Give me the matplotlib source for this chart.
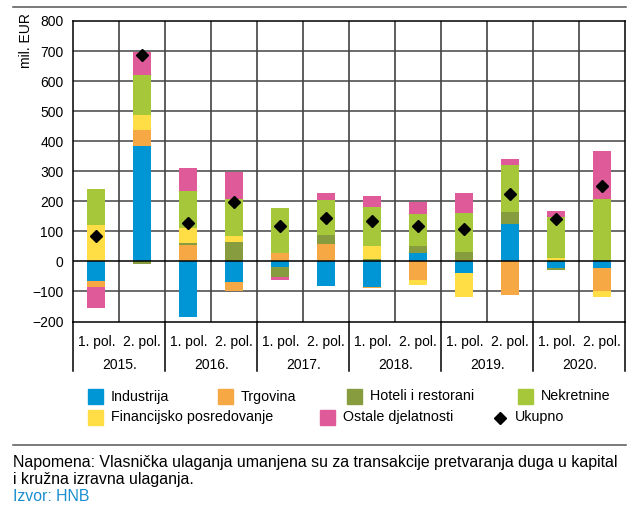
import matplotlib
matplotlib.use('Agg')
import matplotlib.pyplot as plt
import numpy as np
from matplotlib.patches import Rectangle
from matplotlib.lines import Line2D

plt.rcParams['font.family'] = ['Liberation Sans', 'DejaVu Sans']
plt.rcParams['font.size'] = 10

W, H = 633, 509

halves = ['1. pol.', '2. pol.'] * 6
years = ['2015.', '2016.', '2017.', '2018.', '2019.', '2020.']

# mil. EUR, by half-year
industrija = [-64, 383, -184, -70, -17, -81, -86, 28, -38, 126, -21, -22]
trgovina = [-20, 54, 54, -29, 27, 59, -2, -61, 4, -112, 0, -76]
hoteli = [-2, -8, 7, 65, -35, 28, 7, 23, 28, 39, -7, 4]
financijsko = [121, 49, 51, 20, 0, 0, 44, -18, -82, 0, 11, -22]
nekretnine = [120, 135, 123, 122, 150, 118, 131, 107, 128, 157, 136, 203]
ostale = [-69, 75, 76, 92, -10, 23, 37, 39, 67, 18, 21, 162]
ukupno = [85, 688, 128, 199, 117, 144, 133, 117, 109, 224, 140, 251]

series = [
    ('Industrija', industrija, '#0096D6'),
    ('Trgovina', trgovina, '#F6A844'),
    ('Hoteli i restorani', hoteli, '#869C3E'),
    ('Financijsko posredovanje', financijsko, '#FFDD44'),
    ('Nekretnine', nekretnine, '#A5C739'),
    ('Ostale djelatnosti', ostale, '#DE5A98'),
]


def fx(px):
    return px / W


def fy(py):
    return 1 - py / H


fig = plt.figure(figsize=(W / 100, H / 100), dpi=100)
ax = fig.add_axes([fx(73.3), fy(321.5), 552 / W, 300.5 / H])

x = np.arange(len(halves))
pos_bottom = np.zeros(len(x))
neg_bottom = np.zeros(len(x))
for name, vals, col in series:
    v = np.array(vals, dtype=float)
    bottom = np.where(v >= 0, pos_bottom, neg_bottom)
    ax.bar(x, v, 0.39, bottom=bottom, color=col, linewidth=0, zorder=3)
    pos_bottom += np.clip(v, 0, None)
    neg_bottom += np.clip(v, None, 0)

ax.plot(x, ukupno, linestyle='none', marker='D', ms=6.5, color='black', zorder=5)

ax.set_xlim(-0.5, len(x) - 0.5)
ax.set_ylim(-200, 800)
ax.set_yticks(np.arange(-200, 801, 100))
ax.set_xticks([])
ax.tick_params(axis='y', length=0, pad=7, labelsize=10)
for xv in np.arange(0.5, len(x) - 1, 1):
    ax.axvline(xv, color='#333333', lw=1.1, zorder=1)
for yv in np.arange(-100, 800, 100):
    ax.axhline(yv, color='#444444' if yv else 'black', lw=1.1, zorder=1 if yv else 4)
for s in ax.spines.values():
    s.set_color('black')
    s.set_linewidth(1.1)

# category axis below the plot
tr = ax.get_xaxis_transform()
for i, lab in enumerate(halves):
    ax.text(i, -0.069, lab, transform=tr, ha='center', va='center', fontsize=10)
for j, yr in enumerate(years):
    ax.text(2 * j + 0.5, -0.145, yr, transform=tr, ha='center', va='center', fontsize=10)
for xb in np.arange(-0.5, len(x), 2):
    ax.add_line(Line2D([xb, xb], [0, -0.165], transform=tr, color='black', lw=1.1, clip_on=False))

ax.text(-0.085, 0.935, 'mil. EUR', transform=ax.transAxes, rotation=90, ha='center', va='center', fontsize=10)

# legend
legend_items = [
    (0, 88, 396.5), (1, 218, 396.5), (2, 347, 396.5), (4, 518, 396.5),
    (3, 88, 417.5), (5, 320, 417.5),
]
for idx, lx, ly in legend_items:
    name, _, col = series[idx]
    fig.add_artist(Rectangle((fx(lx), fy(ly + 7.5)), 15 / W, 15 / H, color=col, transform=fig.transFigure))
    fig.text(fx(lx + 23), fy(ly), name, ha='left', va='center', fontsize=10.3)
fig.add_artist(Line2D([fx(500)], [fy(417.5)], marker='D', ms=6.5, color='black', transform=fig.transFigure))
fig.text(fx(515), fy(417.5), 'Ukupno', ha='left', va='center', fontsize=10.3)

fig.add_artist(Line2D([fx(13), fx(626)], [fy(7), fy(7)], color='#555555', lw=1.1, transform=fig.transFigure))
fig.add_artist(Line2D([fx(13), fx(626)], [fy(445), fy(445)], color='#555555', lw=1.1, transform=fig.transFigure))

fig.text(fx(13), fy(462), 'Napomena: Vlasnička ulaganja umanjena su za transakcije pretvaranja duga u kapital',
         ha='left', va='center', fontsize=11.4)
fig.text(fx(13), fy(479.5), 'i kružna izravna ulaganja.', ha='left', va='center', fontsize=11.4)
fig.text(fx(13), fy(496.5), 'Izvor: HNB', ha='left', va='center', fontsize=11.4, color='#1A8FD0')

fig.savefig('out.png', dpi=100)
